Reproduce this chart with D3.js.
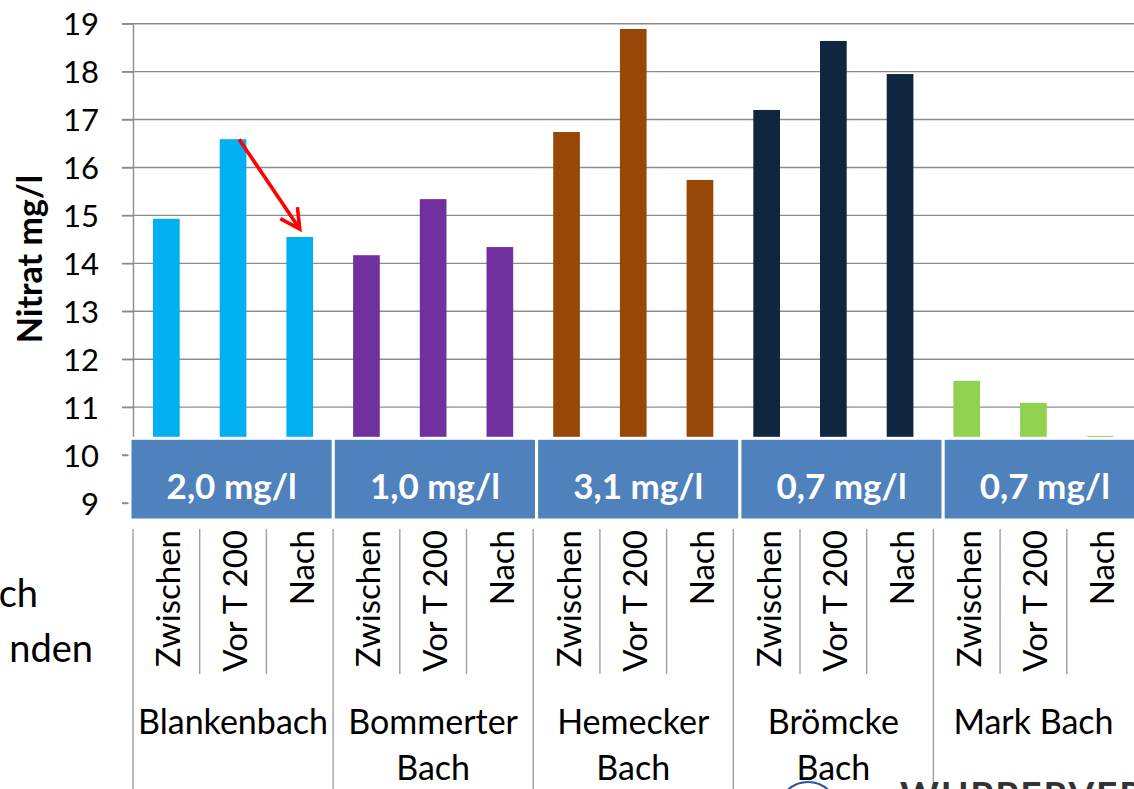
<!DOCTYPE html>
<html>
<head>
<meta charset="utf-8">
<script src="https://cdn.jsdelivr.net/npm/d3@7"></script>
<style>
  html, body { margin: 0; padding: 0; background: #fff; overflow: hidden; }
  svg { display: block; font-family: Lato, "Open Sans", sans-serif; }
</style>
</head>
<body>
<div id="chart"></div>
<script>
// streams, stations along each stream, nitrate values (mg/l)
var groups = ["Blankenbach", "Bommerter Bach", "Hemecker Bach", "Brömcke Bach", "Mark Bach"];
var groupLines = [["Blankenbach"], ["Bommerter", "Bach"], ["Hemecker", "Bach"], ["Brömcke", "Bach"], ["Mark Bach"]];
var stations = ["Zwischen", "Vor T 200", "Nach"];
var nitrat = [
  [14.93, 16.59, 14.55],
  [14.17, 15.34, 14.34],
  [16.74, 18.89, 15.74],
  [17.20, 18.64, 17.95],
  [11.55, 11.09, 10.40]
];
var bandLabels = ["2,0 mg/l", "1,0 mg/l", "3,1 mg/l", "0,7 mg/l", "0,7 mg/l"];
var groupColors = ["#00b0f0", "#7030a0", "#974706", "#10253f", "#92d050"];
var yTicks = [9, 10, 11, 12, 13, 14, 15, 16, 17, 18, 19];

var W = 1134, H = 789;
var left = 133, right = 1133.5;
var gridColor = "#8c8c8c";

var rows = [];
groups.forEach(function(g, gi) {
  stations.forEach(function(s, si) {
    rows.push({ key: g + "|" + s, group: g, gi: gi, station: s, value: nitrat[gi][si] });
  });
});

var svg = d3.select("#chart").append("svg")
  .attr("width", W).attr("height", H);

var x = d3.scaleBand().domain(rows.map(function(d) { return d.key; }))
  .range([left, right]).padding(0);
var xg = d3.scaleBand().domain(groups).range([left, right]).padding(0);
var y = d3.scaleLinear().domain([9, 19]).range([503, 23.7]);

// grid lines
svg.append("g").selectAll("line")
  .data(yTicks)
  .enter().append("line")
  .attr("x1", left - 11).attr("x2", W)
  .attr("y1", function(d) { return y(d); })
  .attr("y2", function(d) { return y(d); })
  .attr("stroke", gridColor).attr("stroke-width", 1.4);

// y axis
var yAxis = svg.append("g")
  .attr("transform", "translate(" + left + ",0)")
  .call(d3.axisLeft(y).tickValues(yTicks).tickSize(11).tickSizeOuter(0).tickPadding(23));
yAxis.select(".domain").attr("stroke", gridColor).attr("stroke-width", 1.4);
yAxis.selectAll(".tick line").attr("stroke", gridColor).attr("stroke-width", 1.4);
yAxis.selectAll(".tick text")
  .attr("fill", "#000").style("font-size", "31px").style("font-family", "Lato, sans-serif")
  .attr("dy", "0.36em");

// bars
var bw = x.bandwidth() * 0.4;
svg.append("g").selectAll("rect")
  .data(rows)
  .enter().append("rect")
  .attr("x", function(d) { return x(d.key) + (x.bandwidth() - bw) / 2; })
  .attr("width", bw)
  .attr("y", function(d) { return y(d.value); })
  .attr("height", function(d) { return y(9) - y(d.value); })
  .attr("fill", function(d) { return groupColors[d.gi]; });

// arrow from "Vor T 200" to "Nach" of Blankenbach
var a0 = rows[1], a1 = rows[2];
var ax0 = x(a0.key) + x.bandwidth() / 2 + 6, ay0 = y(a0.value);
var ax1 = x(a1.key) + x.bandwidth() / 2, ay1 = y(a1.value) - 8;
var ang = Math.atan2(ay0 - ay1, ax0 - ax1), wing = 22, spread = 28 * Math.PI / 180;
var arrow = svg.append("g").attr("stroke", "#ff0000").attr("stroke-width", 3.6)
  .attr("fill", "none").attr("stroke-linecap", "butt");
arrow.append("line").attr("x1", ax0).attr("y1", ay0).attr("x2", ax1).attr("y2", ay1);
arrow.append("polyline").attr("points", [
  [ax1 + wing * Math.cos(ang - spread), ay1 + wing * Math.sin(ang - spread)],
  [ax1, ay1],
  [ax1 + wing * Math.cos(ang + spread), ay1 + wing * Math.sin(ang + spread)]
].map(function(p) { return p.join(","); }).join(" "));

// blue band with added nitrate per stream
var xb = d3.scaleBand().domain(groups).range([130, 130 + 5 * 203.3]).padding(0);
var band = svg.append("g");
band.selectAll("rect")
  .data(groups)
  .enter().append("rect")
  .attr("x", function(d) { return xb(d); })
  .attr("y", 438.3)
  .attr("width", xb.bandwidth())
  .attr("height", 520 - 438.3)
  .attr("fill", "#4f81bd")
  .attr("stroke", "#fff").attr("stroke-width", 3);
band.selectAll("text")
  .data(groups)
  .enter().append("text")
  .attr("x", function(d) { return xb(d) + xb.bandwidth() / 2; })
  .attr("y", 499)
  .attr("text-anchor", "middle")
  .attr("fill", "#fff")
  .style("font-weight", "bold").style("font-size", "35px")
  .text(function(d, i) { return bandLabels[i]; });

// category axis (two levels)
var cat = svg.append("g").attr("stroke", "#a0a0a0").attr("stroke-width", 1.4);
cat.selectAll("line.sub")
  .data(rows.filter(function(d, i) { return i % 3 !== 0; }))
  .enter().append("line").attr("class", "sub")
  .attr("x1", function(d) { return x(d.key); })
  .attr("x2", function(d) { return x(d.key); })
  .attr("y1", 529).attr("y2", 674);
cat.selectAll("line.grp")
  .data(groups)
  .enter().append("line").attr("class", "grp")
  .attr("x1", function(d) { return xg(d); })
  .attr("x2", function(d) { return xg(d); })
  .attr("y1", 529).attr("y2", H);

svg.append("g").selectAll("text")
  .data(rows)
  .enter().append("text")
  .attr("transform", function(d) {
    return "translate(" + (x(d.key) + x.bandwidth() / 2) + ",530) rotate(-90)";
  })
  .attr("y", 14)
  .attr("text-anchor", "end")
  .attr("fill", "#000")
  .style("font-size", "33px")
  .text(function(d) { return d.station; });

var gl = svg.append("g").selectAll("text")
  .data(groups)
  .enter().append("text")
  .attr("x", function(d) { return xg(d) + xg.bandwidth() / 2; })
  .attr("y", 734)
  .attr("text-anchor", "middle")
  .attr("fill", "#000")
  .style("font-size", "34px");
gl.selectAll("tspan")
  .data(function(d, i) { return groupLines[i]; })
  .enter().append("tspan")
  .attr("x", function() { return this.parentNode.getAttribute("x"); })
  .attr("dy", function(d, i) { return i === 0 ? 0 : 46; })
  .text(function(d) { return d; });

// y axis title
svg.append("text")
  .attr("transform", "translate(42,259) rotate(-90)")
  .attr("text-anchor", "middle")
  .style("font-weight", "bold").style("font-size", "34px")
  .text("Nitrat mg/l");

// slide text cut off at the left edge
svg.append("text").attr("x", 38).attr("y", 607).attr("text-anchor", "end")
  .style("font-size", "38px").text("ch");
svg.append("text").attr("x", 93).attr("y", 662).attr("text-anchor", "end")
  .style("font-size", "38px").text("nden");

// logo cut off at the bottom edge
svg.append("circle").attr("cx", 808).attr("cy", 812).attr("r", 30)
  .attr("fill", "none").attr("stroke", "#3050a0").attr("stroke-width", 2);
svg.append("text").attr("x", 900).attr("y", 808)
  .attr("fill", "#333").style("font-size", "37px").style("font-weight", "bold")
  .style("letter-spacing", "2px")
  .text("WUPPERVERBAND");
</script>
</body>
</html>
